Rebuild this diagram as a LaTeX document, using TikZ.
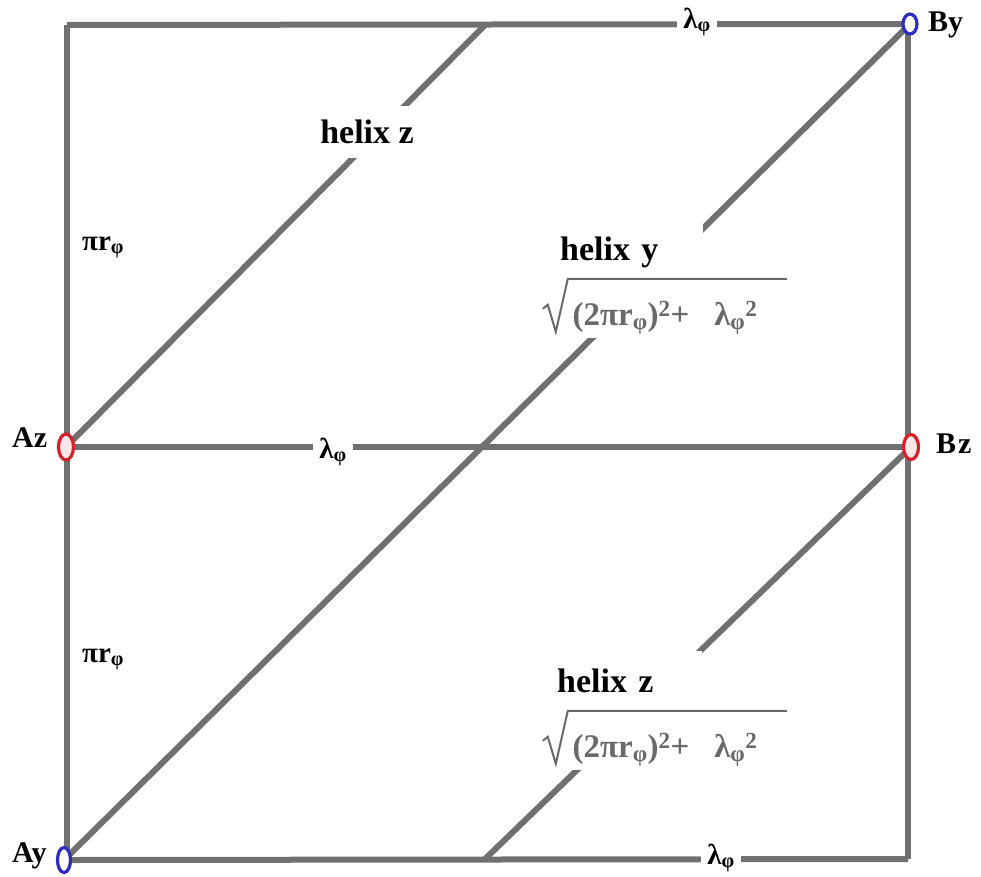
\documentclass[tikz,border=0pt]{standalone}
\usepackage{fontspec}
\setmainfont{Liberation Serif}
\usetikzlibrary{shapes.geometric,backgrounds}
\definecolor{linegray}{RGB}{112,112,112}
\definecolor{formgray}{RGB}{105,105,105}
\definecolor{ringred}{RGB}{210,35,45}
\definecolor{ringblue}{RGB}{45,45,185}
\definecolor{ringfill}{RGB}{250,232,232}
\begin{document}
\begin{tikzpicture}[x=1pt,y=-1pt,
  edge/.style={draw=linegray,line width=6pt},
  ring/.style={ellipse,fill=white,line width=3.2pt,inner sep=0pt,minimum width=13pt,minimum height=24pt},
  cornerlbl/.style={font=\fontsize{30}{34}\selectfont\bfseries,inner sep=0pt,anchor=base west},
  smalllbl/.style={font=\fontsize{29}{32}\selectfont\bfseries,inner sep=0pt},
  gaplbl/.style={smalllbl,fill=white,inner xsep=6pt,inner ysep=2pt},
  helixlbl/.style={font=\fontsize{34}{40}\selectfont\bfseries,fill=white,inner xsep=3pt,inner ysep=14pt},
  formlbl/.style={font=\fontsize{33}{38}\selectfont\bfseries,text=formgray,fill=white,inner sep=0pt,minimum width=250pt,minimum height=60pt},
  radical/.style={draw=formgray,line width=2pt,line join=miter}]
\useasboundingbox (0,0) rectangle (981,876);

% end points
\node[ring,draw=ringred,fill=ringfill,minimum width=15pt,minimum height=26pt] (Az) at (66,447) {};
\node[ring,draw=ringred,fill=ringfill,minimum width=15pt,minimum height=25pt] (Bz) at (911,447) {};
\node[ring,draw=ringblue,minimum width=14pt,minimum height=20pt] (By) at (910,24) {};
\node[ring,draw=ringblue,minimum width=13pt,minimum height=25pt] (Ay) at (64,860) {};
\coordinate (TL) at (67,25);
\coordinate (BR) at (908,859);
\coordinate (TopM) at (485,25);
\coordinate (BotM) at (485,859);

\begin{pgfonlayer}{background}
  \draw[edge] (TL) -- (By.center);
  \draw[edge] (TL) -- (67,860) -- (Ay.center);
  \draw[edge] (By.center) -- (908,24) -- (BR);
  \draw[edge] (Ay.center) -- (BR);
  \draw[edge] (Az.center) -- (Bz.center);
  \draw[edge] (Az.center) -- (TopM);
  \draw[edge] (Ay.center) -- (By.center);
  \draw[edge] (Bz.center) -- (BotM);
\end{pgfonlayer}

% corner labels
\node[cornerlbl] (lAz) at (12,447) {Az};
\node[cornerlbl] (lBz) at (936,453) {B\kern2pt z};
\node[cornerlbl] (lBy) at (928,31) {By};
\node[cornerlbl] (lAy) at (12,862) {Ay};

% edge labels
\node[gaplbl] (lamT) at (697,22) {λ\textsubscript{φ}};
\node[gaplbl] (lamM) at (333,452) {λ\textsubscript{φ}};
\node[gaplbl] (lamB) at (721,858) {λ\textsubscript{φ}};
\node[smalllbl,anchor=base west] (piT) at (82,250) {πr\textsubscript{φ}};
\node[smalllbl,anchor=base west] (piB) at (82,662) {πr\textsubscript{φ}};

% helix labels
\node[helixlbl,inner ysep=14pt] (hzT) at (367,132) {helix z};
\node[helixlbl,inner ysep=13pt,anchor=west,text width=140pt,align=left] (hy) at (557,252) {helix y};
\node[helixlbl,inner ysep=18pt,anchor=west,text width=142pt,align=left] (hzB) at (554,681) {helix z};

% formulas
\node[formlbl] (fy) at (665,308) {\rule{0pt}{44pt}(2πr\textsubscript{φ})\textsuperscript{2}+\hspace{0.75em}λ\textsubscript{φ}\textsuperscript{2}};
\draw[radical] ([shift={(3,31)}]fy.north west) -- ([shift={(8,27)}]fy.north west)
  -- ([shift={(16,54)}]fy.north west) -- ([shift={(28,1)}]fy.north west) -- ([shift={(247,1)}]fy.north west);
\node[formlbl] (fz) at (665,740) {\rule{0pt}{44pt}(2πr\textsubscript{φ})\textsuperscript{2}+\hspace{0.75em}λ\textsubscript{φ}\textsuperscript{2}};
\draw[radical] ([shift={(3,31)}]fz.north west) -- ([shift={(8,27)}]fz.north west)
  -- ([shift={(16,54)}]fz.north west) -- ([shift={(28,1)}]fz.north west) -- ([shift={(247,1)}]fz.north west);
\end{tikzpicture}
\end{document}
